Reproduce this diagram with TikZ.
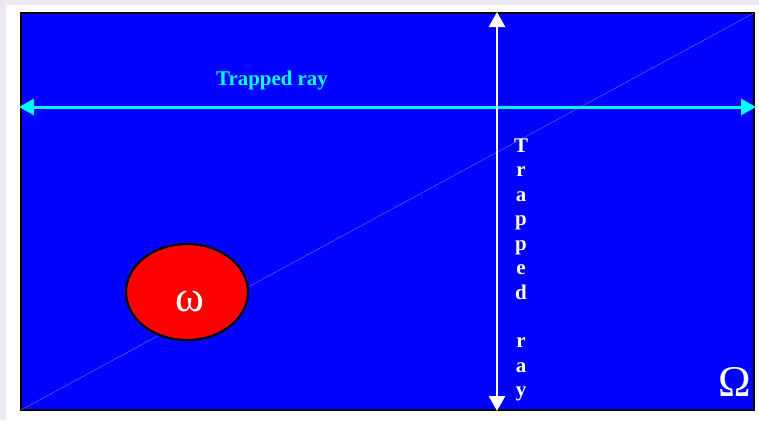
\documentclass[tikz,border=0pt]{standalone}
\usepackage{fontspec}
\setmainfont{Liberation Serif}
\usetikzlibrary{positioning, arrows.meta, shapes.geometric}
\definecolor{pagetint}{HTML}{EEE8F4}
\definecolor{domainblue}{HTML}{0000FF}
\definecolor{raycyan}{HTML}{00FFFF}
\definecolor{diaglight}{HTML}{7070FF}

\begin{document}
\begin{tikzpicture}[
    x=1bp, y=-1bp,
    >={Triangle[length=15bp, width=16bp]},
    raylabel/.style={
        font=\bfseries\fontsize{21}{24.5}\selectfont,
        inner sep=0pt
    },
    obstacle/.style={
        ellipse,
        draw=black,
        line width=2.2bp,
        fill=red,
        minimum width=122bp,
        minimum height=96bp
    },
    greek/.style={
        text=white,
        font=\fontsize{44}{46}\selectfont,
        inner sep=0pt
    }
]

% page and margins
\fill[pagetint] (0,0) rectangle (759,420);
\fill[white] (6,5) rectangle (759,420);

% the domain Omega
\coordinate (SW) at (21,410);
\coordinate (NE) at (754,13);
\draw[line width=2.5bp, fill=domainblue] (SW) rectangle (NE);
\draw[diaglight, line width=0.4bp] (SW) -- (NE);

% trapped rays
\coordinate (hL) at (19,107);
\coordinate (hR) at (756,107);
\coordinate (vT) at (497,12);
\coordinate (vB) at (497,411);
\draw[<->, raycyan, line width=3bp] (hL) -- (hR);
\draw[<->, white, line width=2.5bp] (vT) -- (vB);

\node[raylabel, text=raycyan] (hlab) at (272,80) {Trapped ray};
\node[raylabel, text=white, align=center] (vlab) at (521,270)
    {T\\r\\a\\p\\p\\e\\d\\\mbox{}\\r\\a\\y};

% the obstacle omega
\node[obstacle] (obs) at (187,292) {};
\node[greek] (w) at (190,301) {ω};
\node[greek] (Om) at (735,382) {Ω};

\end{tikzpicture}
\end{document}
